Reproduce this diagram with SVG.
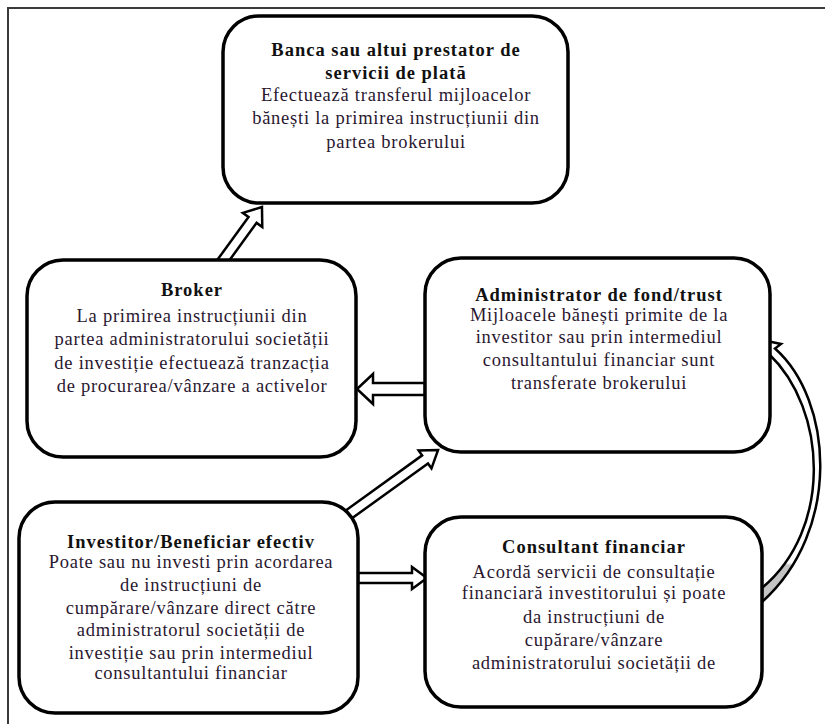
<svg xmlns="http://www.w3.org/2000/svg" width="825" height="724" viewBox="0 0 825 724">
<style>
.box{fill:#fff;stroke:#000;stroke-width:3.5}
.t{font-family:"Liberation Serif","Times New Roman",serif;font-size:18.5px;letter-spacing:0.75px;fill:#2a1730;text-anchor:middle}
.b{font-weight:bold;fill:#111;letter-spacing:1px}
.arr{fill:#fff;stroke:#000;stroke-width:2.5;stroke-linejoin:miter}
.frame{stroke:#3a3a3a;stroke-width:2;fill:none}
</style>
<defs>
<linearGradient id="g" x1="0" y1="0" x2="0" y2="1">
<stop offset="0" stop-color="#fff"/>
<stop offset="0.85" stop-color="#fff"/>
<stop offset="0.86" stop-color="#c4c4c4"/>
<stop offset="1" stop-color="#c4c4c4"/>
</linearGradient>
</defs>
<rect width="825" height="724" fill="#fff"/>
<path class="frame" d="M8,724 V8 H825"/>

<g id="connectors">
<polygon class="arr" transform="translate(222,262) rotate(-54)" points="0,-5 52,-5 52,-12 68,0 52,12 52,5 0,5"/>
<polygon class="arr" transform="translate(425,389) rotate(180)" points="0,-6 52,-6 52,-15 68,0 52,15 52,6 0,6"/>
<polygon class="arr" transform="translate(348,515) rotate(-35.8)" points="0,-5 95,-5 95,-11 111,0 95,11 95,5 0,5"/>
<polygon class="arr" transform="translate(358,578) rotate(0)" points="0,-5 54,-5 54,-11 69,0 54,11 54,5 0,5"/>
<path class="arr" style="fill:url(#g)" d="M762,340 L781,344 L775,348.5 C833,400 842,530 762,602 L762,588 C832,530 828,410 768.5,353.5 L763,359 Z"/>
</g>

<g id="banca">
<rect class="box" x="223" y="16" width="345" height="187" rx="36"/>
<text class="t b" x="396" y="56">Banca sau altui prestator de</text>
<text class="t b" x="396" y="79">servicii de plată</text>
<text class="t" x="396" y="101">Efectuează transferul mijloacelor</text>
<text class="t" x="396" y="124">bănești la primirea instrucțiunii din</text>
<text class="t" x="396" y="148">partea brokerului</text>
</g>

<g id="broker">
<rect class="box" x="27" y="260" width="329" height="197" rx="36"/>
<text class="t b" x="192" y="296">Broker</text>
<text class="t" x="192" y="322">La primirea instrucțiunii din</text>
<text class="t" x="192" y="345">partea administratorului societății</text>
<text class="t" x="192" y="369">de investiție efectuează tranzacția</text>
<text class="t" x="192" y="392">de procurarea/vânzare a activelor</text>
</g>

<g id="administrator">
<rect class="box" x="425" y="258" width="345" height="194" rx="36"/>
<text class="t b" x="599" y="301">Administrator de fond/trust</text>
<text class="t" x="599" y="321">Mijloacele bănești primite de la</text>
<text class="t" x="599" y="343">investitor sau prin intermediul</text>
<text class="t" x="599" y="366">consultantului financiar sunt</text>
<text class="t" x="599" y="389">transferate brokerului</text>
</g>

<g id="investitor">
<rect class="box" x="19" y="502" width="339" height="211" rx="36"/>
<text class="t b" x="191" y="548">Investitor/Beneficiar efectiv</text>
<text class="t" x="191" y="568">Poate sau nu investi prin acordarea</text>
<text class="t" x="191" y="591">de instrucțiuni de</text>
<text class="t" x="191" y="614">cumpărare/vânzare direct către</text>
<text class="t" x="191" y="636">administratorul societății de</text>
<text class="t" x="191" y="659">investiție sau prin intermediul</text>
<text class="t" x="191" y="679">consultantului financiar</text>
</g>

<g id="consultant">
<rect class="box" x="425" y="517" width="337" height="190" rx="36"/>
<text class="t b" x="594" y="553">Consultant financiar</text>
<text class="t" x="594" y="578">Acordă servicii de consultație</text>
<text class="t" x="594" y="599">financiară investitorului și poate</text>
<text class="t" x="594" y="623">da instrucțiuni de</text>
<text class="t" x="594" y="646">cupărare/vânzare</text>
<text class="t" x="594" y="669">administratorului societății de</text>
</g>
</svg>
